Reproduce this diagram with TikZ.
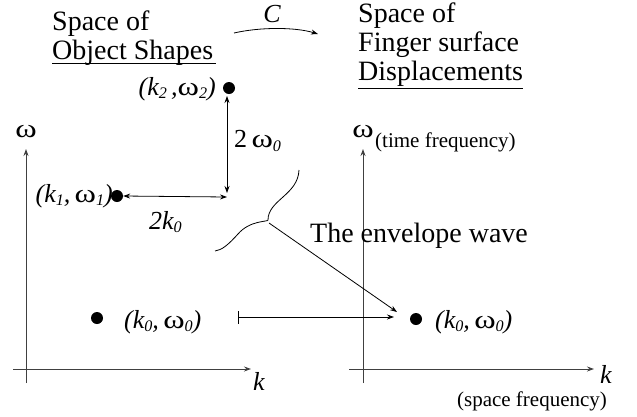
\documentclass[tikz,border=0pt]{standalone}
\usepackage{fontspec}
\setmainfont{Liberation Serif}
\usetikzlibrary{arrows.meta,positioning,calc}
\newcommand{\lowidx}[1]{\raisebox{-0.14em}{\scalebox{0.62}{#1}}}
\newcommand{\om}{{\upshape\scalebox{1.25}[1]{ω}}}
\tikzset{
  titletext/.style={font=\fontsize{28}{29}\selectfont, inner sep=0pt, anchor=base west},
  ptlabel/.style={font=\fontsize{26}{28}\selectfont\itshape, inner sep=0pt},
  axlabel/.style={font=\fontsize{26}{28}\selectfont, inner sep=0pt},
  notetext/.style={font=\fontsize{21}{23}\selectfont, inner sep=0pt},
  ptdot/.style={circle, fill=black, inner sep=0pt, minimum size=12pt},
  axis/.style={draw=black!75, line width=0.9pt, -{Stealth[length=7pt,width=5pt]}},
  arc/.style={draw=black, line width=0.8pt, -{Stealth[length=7pt,width=5pt]}},
  twoarc/.style={arc, {Stealth[length=7pt,width=5pt]}-{Stealth[length=7pt,width=5pt]}},
}
\begin{document}
\begin{tikzpicture}[x=1pt, y=-1pt]
    \useasboundingbox (0,0) rectangle (637,416);
    % titles
    \node[titletext] (srcA) at (52,30) {Space of};
    \node[titletext] (srcB) at (52,59) {Object Shapes};
    \node[titletext] (dstA) at (358,22) {Space of};
    \node[titletext] (dstB) at (358,51) {Finger surface};
    \node[titletext] (dstC) at (358,80) {Displacements};
    \draw[line width=0.8pt] ($(srcB.base west)+(0,4)$) -- ($(srcB.base east)+(3,4)$);
    \draw[line width=0.8pt] ($(dstC.base west)+(0,8)$) -- ($(dstC.base east)+(0,8)$);
    \node[ptlabel] (cmap) at (272,14) {C};
    \coordinate (cfrom) at (234,33);
    \coordinate (cto) at (318,34);
    \draw[arc] (cfrom) .. controls (260,27) and (295,27) .. (cto);
    % left axes
    \coordinate (lbot) at (26,383);
    \coordinate (ltop) at (26,149);
    \coordinate (lleft) at (13,369);
    \coordinate (lright) at (251,369);
    \draw[axis] (lbot) -- (ltop);
    \draw[axis] (lleft) -- (lright);
    \node[axlabel] (lom) at (26,132) {\om};
    \node[ptlabel] (lk) at (259,381) {k};
    % right axes
    \coordinate (rbot) at (363,383);
    \coordinate (rtop) at (363,149);
    \coordinate (rleft) at (349,369);
    \coordinate (rright) at (594,369);
    \draw[axis] (rbot) -- (rtop);
    \draw[axis] (rleft) -- (rright);
    \node[axlabel] (rom) at (363,132) {\om};
    \node[notetext, anchor=west] (tfreq) at (375,142) {(time frequency)};
    \node[ptlabel] (rk) at (606,374) {k};
    \node[notetext] (sfreq) at (532,401) {(space frequency)};
    % points
    \node[ptdot] (ptwo) at (229,88) {};
    \node[ptlabel, anchor=east] at (216,89) {(k\lowidx{2}\,,\om\lowidx{2})};
    \node[ptdot] (pone) at (117,196) {};
    \node[ptlabel, anchor=east] at (113,196) {(k\lowidx{1},\,\om\lowidx{1})};
    \node[ptdot] (pzero) at (97,318) {};
    \node[ptlabel, anchor=west] at (124,322) {(k\lowidx{0},\,\om\lowidx{0})};
    \node[ptdot] (qzero) at (416,319) {};
    \node[ptlabel, anchor=west] at (435,322) {(k\lowidx{0},\,\om\lowidx{0})};
    % shifts
    \coordinate (vtop) at (227,96);
    \coordinate (vtip) at (227,193);
    \coordinate (htip) at (227,197);
    \draw[twoarc] (vtop) -- (vtip);
    \draw[twoarc] (pone.east) -- (htip);
    \node[ptlabel, anchor=west] (dw) at (234,141) {{\upshape 2}\,\om\lowidx{0}};
    \node[ptlabel, anchor=west] (dk) at (149,222) {2k\lowidx{0}};
    % envelope
    \coordinate (envtip) at (269,223);
    \draw[line width=0.8pt] (299,170) .. controls (298,195) and (268,200) .. (268,220)
      .. controls (268,222) and (250,220) .. (238,234) .. controls (228,245) and (222,250) .. (215,251);
    \coordinate (envto) at (397,312);
    \draw[arc] (envtip) -- (envto);
    \node[titletext] (envtext) at (310,242) {The envelope wave};
    \coordinate (mapfrom) at (238,317);
    \coordinate (mapto) at (394,317);
    \draw[arc, {Bar[width=13pt]}-{Stealth[length=7pt,width=5pt]}] (mapfrom) -- (mapto);
  \end{tikzpicture}
\end{document}
